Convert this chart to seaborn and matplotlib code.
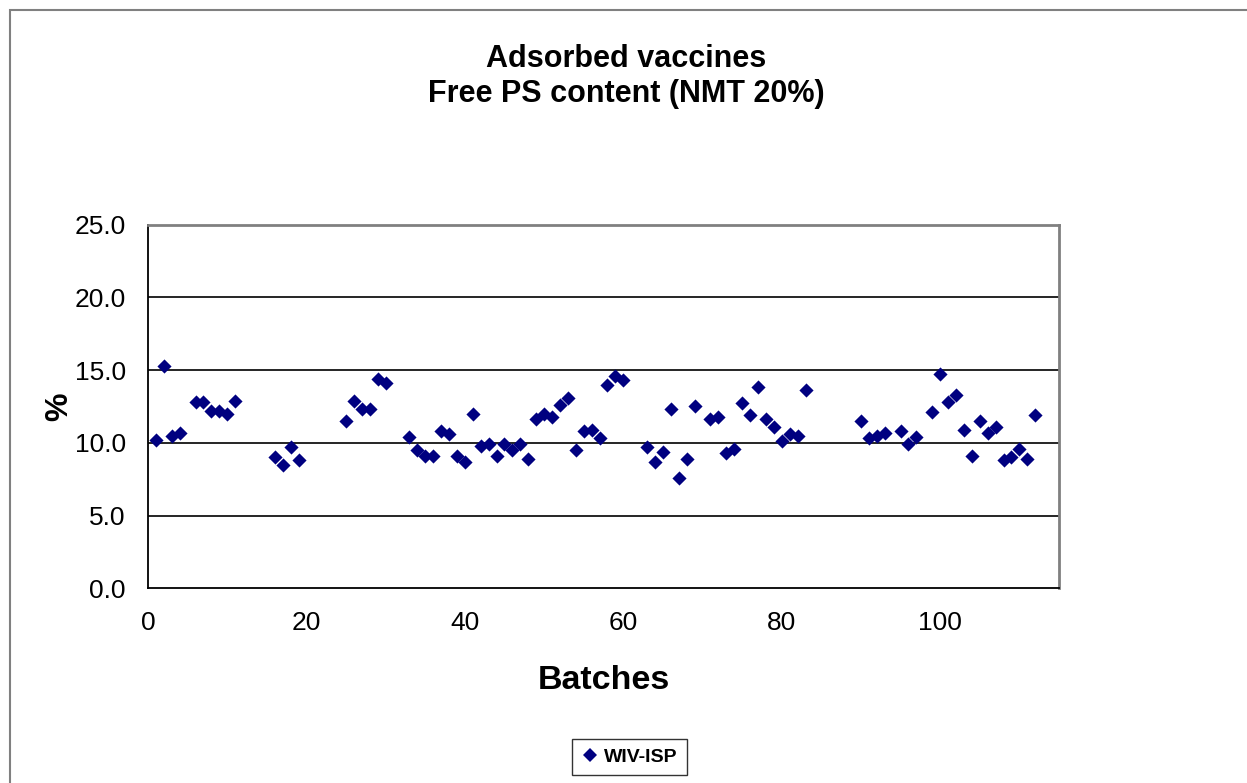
import matplotlib
matplotlib.use("Agg")
import matplotlib.pyplot as plt
import seaborn as sns
import pandas as pd
from matplotlib.patches import Rectangle
from matplotlib.lines import Line2D

batches = [1, 2, 3, 4, 6, 7, 8, 9, 10, 11,
           16, 17, 18, 19,
           25, 26, 27, 28, 29, 30,
           33, 34, 35, 36, 37, 38, 39, 40, 41, 42, 43, 44, 45, 46, 47, 48,
           49, 50, 51, 52, 53, 54, 55, 56, 57, 58, 59, 60,
           63, 64, 65, 66, 67, 68, 69, 71, 72, 73, 74, 75, 76, 77, 78, 79,
           80, 81, 82, 83,
           90, 91, 92, 93, 95, 96, 97, 99, 100, 101, 102, 103, 104, 105,
           106, 107, 108, 109, 110, 111, 112]
free_ps = [10.2, 15.3, 10.5, 10.7, 12.8, 12.8, 12.2, 12.2, 12.0, 12.9,
           9.0, 8.5, 9.7, 8.8,
           11.5, 12.9, 12.3, 12.3, 14.4, 14.1,
           10.4, 9.5, 9.1, 9.1, 10.8, 10.6, 9.1, 8.7, 12.0, 9.8, 9.9, 9.1, 9.9, 9.5, 9.9, 8.9,
           11.6, 12.0, 11.8, 12.6, 13.1, 9.5, 10.8, 10.9, 10.3, 14.0, 14.6, 14.3,
           9.7, 8.7, 9.4, 12.3, 7.6, 8.9, 12.5, 11.6, 11.8, 9.3, 9.6, 12.7, 11.9, 13.8, 11.6, 11.1,
           10.1, 10.6, 10.5, 13.6,
           11.5, 10.3, 10.5, 10.7, 10.8, 9.9, 10.4, 12.1, 14.7, 12.8, 13.3, 10.9, 9.1, 11.5,
           10.7, 11.1, 8.8, 9.0, 9.6, 8.9, 11.9]
series_name = "WIV-ISP"
title_lines = ["Adsorbed vaccines", "Free PS content (NMT 20%)"]
y_ticks = [0, 5, 10, 15, 20, 25]
x_ticks = [0, 20, 40, 60, 80, 100]

df = pd.DataFrame({"Batches": batches, "%": free_ps})

sns.set_style("white")
plt.rcParams['font.family'] = ['Liberation Sans', 'DejaVu Sans']
plt.rcParams['text.color'] = 'black'
plt.rcParams['axes.labelcolor'] = 'black'
plt.rcParams['xtick.color'] = 'black'
plt.rcParams['ytick.color'] = 'black'

W, H = 1247, 783
fig = plt.figure(figsize=(W / 100, H / 100), dpi=100)
fig.patch.set_facecolor("white")

# outer chart-area frame
fig.add_artist(Rectangle((10 / W, -0.05), 1.2, 1 - 10 / H + 0.05, transform=fig.transFigure,
                         fill=False, edgecolor="#808080", linewidth=1.5))

left, right = 148 / W, 1059 / W
bottom, top = 1 - 588.3 / H, 1 - 224.5 / H
ax = fig.add_axes([left, bottom, right - left, top - bottom])

navy = "#000080"
sns.scatterplot(data=df, x="Batches", y="%", ax=ax, marker="D", color=navy,
                s=52, linewidth=0, legend=False, zorder=3)

ax.set_xlim(0, 115)
ax.set_ylim(0, 25)
ax.set_xticks(x_ticks)
ax.set_yticks(y_ticks)
ax.set_yticklabels([f"{v:.1f}" for v in y_ticks])
ax.set_xticklabels([str(v) for v in x_ticks])
ax.tick_params(axis="both", direction="out", length=6, width=1.2, color="black",
               labelsize=19, labelcolor="black", pad=10)

ax.grid(False)
for yv in y_ticks[1:]:
    ax.axhline(yv, color="black", linewidth=1.2, zorder=1)

for side in ["left", "bottom"]:
    ax.spines[side].set_color("black")
    ax.spines[side].set_linewidth(1.3)
for side in ["top", "right"]:
    ax.spines[side].set_color("#808080")
    ax.spines[side].set_linewidth(2)

ax.set_xlabel("Batches", fontsize=24.5, fontweight="bold", labelpad=22, color="black")
ax.set_ylabel("%", fontsize=23, fontweight="bold", labelpad=0, color="black")
ax.yaxis.set_label_coords(57 / W - left, 0.5, transform=fig.transFigure + ax.transAxes - ax.transAxes) if False else None
ax.yaxis.label.set_position((0, 0.5))

fig.text(626 / W, 1 - 59 / H, title_lines[0], ha="center", va="center",
         fontsize=22, fontweight="bold", color="black")
fig.text(626 / W, 1 - 94 / H, title_lines[1], ha="center", va="center",
         fontsize=22, fontweight="bold", color="black")

handle = Line2D([], [], linestyle="none", marker="D", color=navy, markersize=7,
                markeredgewidth=0)
leg = fig.legend([handle], [series_name], loc="center", bbox_to_anchor=(629.5 / W, 1 - 757 / H),
                 frameon=True, fancybox=False, edgecolor="black", handlelength=0.9,
                 handletextpad=0.3, borderpad=0.45, borderaxespad=0,
                 prop={"weight": "bold", "size": 14})
leg.get_frame().set_linewidth(1.0)
for t in leg.get_texts():
    t.set_color("black")

fig.savefig("out.png", dpi=100, facecolor="white")
